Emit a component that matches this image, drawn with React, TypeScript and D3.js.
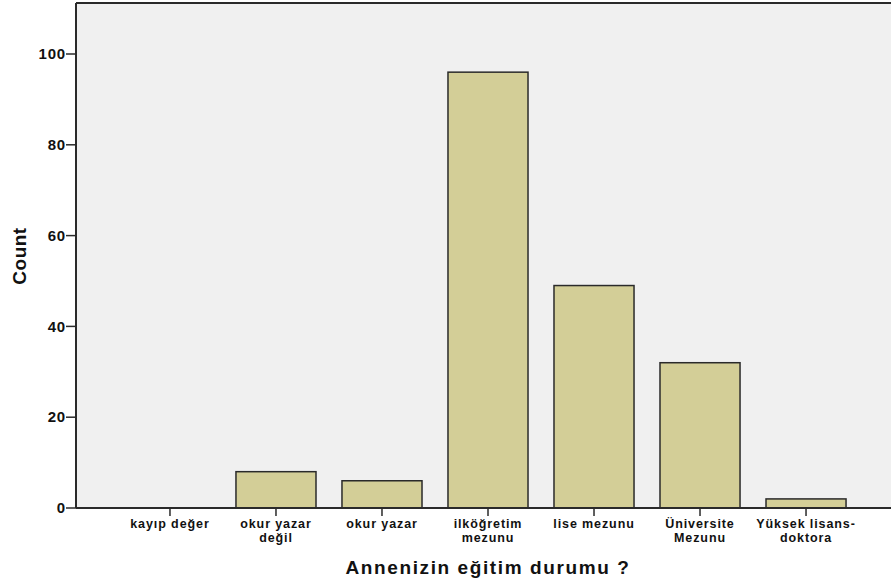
import React from "react";
import * as d3 from "d3";

const categories: string[][] = [
  ["kayıp değer"],
  ["okur yazar", "değil"],
  ["okur yazar"],
  ["ilköğretim", "mezunu"],
  ["lise mezunu"],
  ["Üniversite", "Mezunu"],
  ["Yüksek lisans-", "doktora"],
];
const counts: number[] = [0, 8, 6, 96, 49, 32, 2];
const yTicks: number[] = [0, 20, 40, 60, 80, 100];
const xTitle = "Annenizin eğitim durumu ?";
const yTitle = "Count";

const W = 891;
const H = 582;
const left = 76;
const top = 3;
const bottom = 508;
const right = 900;

export default function App() {
  const keys = categories.map((c) => c.join(" "));
  const x = d3
    .scaleBand<string>()
    .domain(keys)
    .range([left, right])
    .paddingInner(0.245)
    .paddingOuter(0.509);
  const y = d3.scaleLinear().domain([0, 100]).range([bottom, 54]);
  const font = "'Liberation Sans', Arial, sans-serif";
  const stroke = "#2a2a2a";
  return (
    <svg
      width={W}
      height={H}
      style={{ position: "absolute", left: 0, top: 0, background: "#fff" }}
      fontFamily={font}
    >
      <rect x={left} y={top} width={right - left} height={bottom - top} fill="#f0f0f0" />
      {counts.map((v, i) =>
        v > 0 ? (
          <rect
            key={i}
            x={x(keys[i])!}
            y={y(v)}
            width={x.bandwidth()}
            height={bottom - y(v)}
            fill="#d3ce97"
            stroke={stroke}
            strokeWidth={1.5}
          />
        ) : null
      )}
      <line x1={left} x2={left} y1={top} y2={bottom} stroke={stroke} strokeWidth={2} />
      <line x1={left} x2={right} y1={top} y2={top} stroke={stroke} strokeWidth={2} />
      <line x1={left} x2={right} y1={bottom} y2={bottom} stroke={stroke} strokeWidth={2} />
      {yTicks.map((t) => (
        <g key={t}>
          <line x1={left - 10} x2={left} y1={y(t)} y2={y(t)} stroke={stroke} strokeWidth={1.5} />
          <text
            x={left - 10}
            y={y(t)}
            dy="0.35em"
            textAnchor="end"
            fontSize={15}
            fontWeight="bold"
            letterSpacing={0.8}
            fill="#111"
          >
            {t}
          </text>
        </g>
      ))}
      {categories.map((lines, i) => {
        const cx = x(keys[i])! + x.bandwidth() / 2;
        return (
          <g key={i}>
            <line x1={cx} x2={cx} y1={bottom} y2={bottom + 8} stroke={stroke} strokeWidth={1.5} />
            <text
              textAnchor="middle"
              fontSize={12.5}
              fontWeight="bold"
              letterSpacing={0.9}
              fill="#111"
            >
              {lines.map((l, j) => (
                <tspan key={j} x={cx} y={528 + j * 13.5}>
                  {l}
                </tspan>
              ))}
            </text>
          </g>
        );
      })}
      <text
        x={488}
        y={574}
        textAnchor="middle"
        fontSize={19}
        fontWeight="bold"
        letterSpacing={1.6}
        fill="#111"
      >
        {xTitle}
      </text>
      <text
        transform={`translate(26, 256) rotate(-90)`}
        textAnchor="middle"
        fontSize={19}
        fontWeight="bold"
        letterSpacing={0.5}
        fill="#111"
      >
        {yTitle}
      </text>
    </svg>
  );
}
